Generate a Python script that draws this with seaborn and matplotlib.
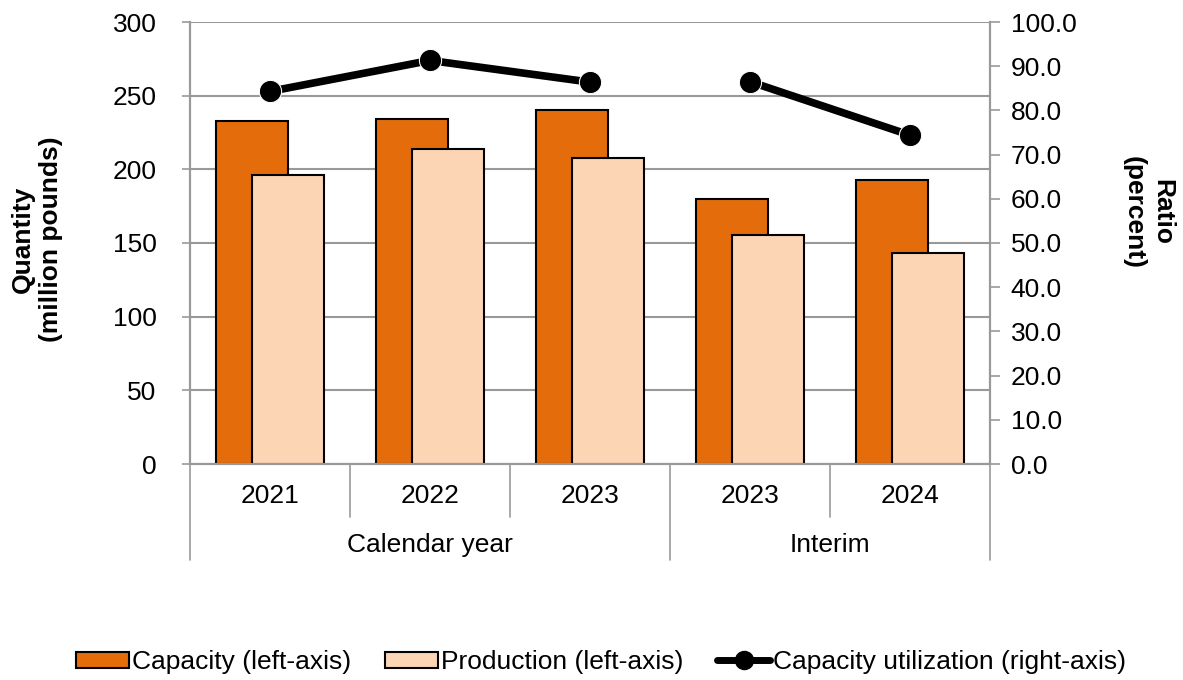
import numpy as np
import pandas as pd
import matplotlib
matplotlib.use("Agg")
import matplotlib.pyplot as plt
import seaborn as sns
from matplotlib.patches import Patch
from matplotlib.lines import Line2D

years = ["2021", "2022", "2023", "2023", "2024"]
groups = ["Calendar year", "Calendar year", "Calendar year", "Interim", "Interim"]
capacity = [232.7, 234.4, 240.3, 180.2, 192.6]
production = [196.1, 214.0, 207.5, 155.6, 143.2]
utilization = [84.3, 91.3, 86.4, 86.5, 74.4]

sns.set_style("white")
plt.rcParams['font.family'] = ['Liberation Sans', 'DejaVu Sans']
plt.rcParams['text.color'] = 'black'
plt.rcParams['ytick.labelcolor'] = 'black'
plt.rcParams['axes.labelcolor'] = 'black'

FS = 19

df = pd.DataFrame({"pos": np.arange(len(years)), "year": years, "group": groups,
                   "capacity": capacity, "production": production,
                   "utilization": utilization})

fig = plt.figure(figsize=(11.83, 6.8), dpi=100)
ax = fig.add_axes([190/1183, 1-464/680, 800/1183, 442/680])

grid_c = "#999999"
sns.barplot(x=df["pos"] - 0.11, y=df["capacity"], native_scale=True, width=0.45,
            color="#E46C0A", edgecolor="black", linewidth=1.5, saturation=1, ax=ax, zorder=2)
sns.barplot(x=df["pos"] + 0.115, y=df["production"], native_scale=True, width=0.45,
            color="#FCD5B5", edgecolor="black", linewidth=1.5, saturation=1, ax=ax, zorder=3)

ax.set_xlim(-0.5, 4.5)
ax.set_ylim(0, 300)
ax.set_yticks(range(0, 301, 50))
ax.yaxis.grid(True, color=grid_c, linewidth=1.5)
ax.set_axisbelow(True)
ax.set_xticks([])
ax.set_xlabel("")
ax.set_ylabel("")
ax.tick_params(axis="y", labelsize=FS, length=6, color=grid_c, left=True, width=1.2,
               pad=18, labelcolor="black")
ax.spines["top"].set_visible(False)
for s in ["left", "right", "bottom"]:
    ax.spines[s].set_color(grid_c)
    ax.spines[s].set_linewidth(1.5)

ax2 = ax.twinx()
sns.lineplot(x=df["pos"], y=df["utilization"], units=df["group"], estimator=None,
             color="black", linewidth=5.5, marker="o", markersize=16, ax=ax2, zorder=4)
ax2.set_ylim(0, 100)
ax2.set_yticks(range(0, 101, 10))
ax2.set_yticklabels([f"{v:.1f}" for v in range(0, 101, 10)])
ax2.set_ylabel("")
ax2.tick_params(axis="y", labelsize=FS, length=7, color=grid_c, right=True, width=1.2,
                pad=8, labelcolor="black")
ax2.spines["top"].set_visible(False)
for s in ["left", "right", "bottom"]:
    ax2.spines[s].set_color(grid_c)
    ax2.spines[s].set_linewidth(1.5)
ax2.set_xlabel("")

# axis titles
fig.text(37/1183, 1-239/680, "Quantity\n(million pounds)", rotation=90, ha="center",
         va="center", multialignment="center", fontsize=FS, fontweight="bold")
fig.text(1148/1183, 1-212/680, "Ratio\n(percent)", rotation=270, ha="center",
         va="center", multialignment="center", fontsize=FS, fontweight="bold")

# multi-level category axis
tr = ax.get_xaxis_transform()
for i, y in enumerate(years):
    ax.text(i, -0.072, y, transform=tr, ha="center", va="center", fontsize=FS)
for b in [0.5, 1.5, 3.5]:
    ax.plot([b, b], [0, -0.12], transform=tr, color=grid_c, lw=1.2, clip_on=False)
for b in [-0.5, 2.5, 4.5]:
    ax.plot([b, b], [0, -0.217], transform=tr, color=grid_c, lw=1.2, clip_on=False)
ax.text(1, -0.183, "Calendar year", transform=tr, ha="center", va="center", fontsize=FS)
ax.text(3.5, -0.183, "Interim", transform=tr, ha="center", va="center", fontsize=FS)

handles = [Patch(facecolor="#E46C0A", edgecolor="black", linewidth=1.5),
           Patch(facecolor="#FCD5B5", edgecolor="black", linewidth=1.5),
           Line2D([], [], color="black", linewidth=5, marker="o", markersize=13)]
labels = ["Capacity (left-axis)", "Production (left-axis)", "Capacity utilization (right-axis)"]
fig.legend(handles, labels, loc="center", bbox_to_anchor=(0.508, 1-662/680), ncol=3,
           frameon=False, fontsize=FS, handlelength=2.0, handleheight=0.55,
           handletextpad=0.1, columnspacing=1.3)

fig.savefig("out.png", dpi=100)
